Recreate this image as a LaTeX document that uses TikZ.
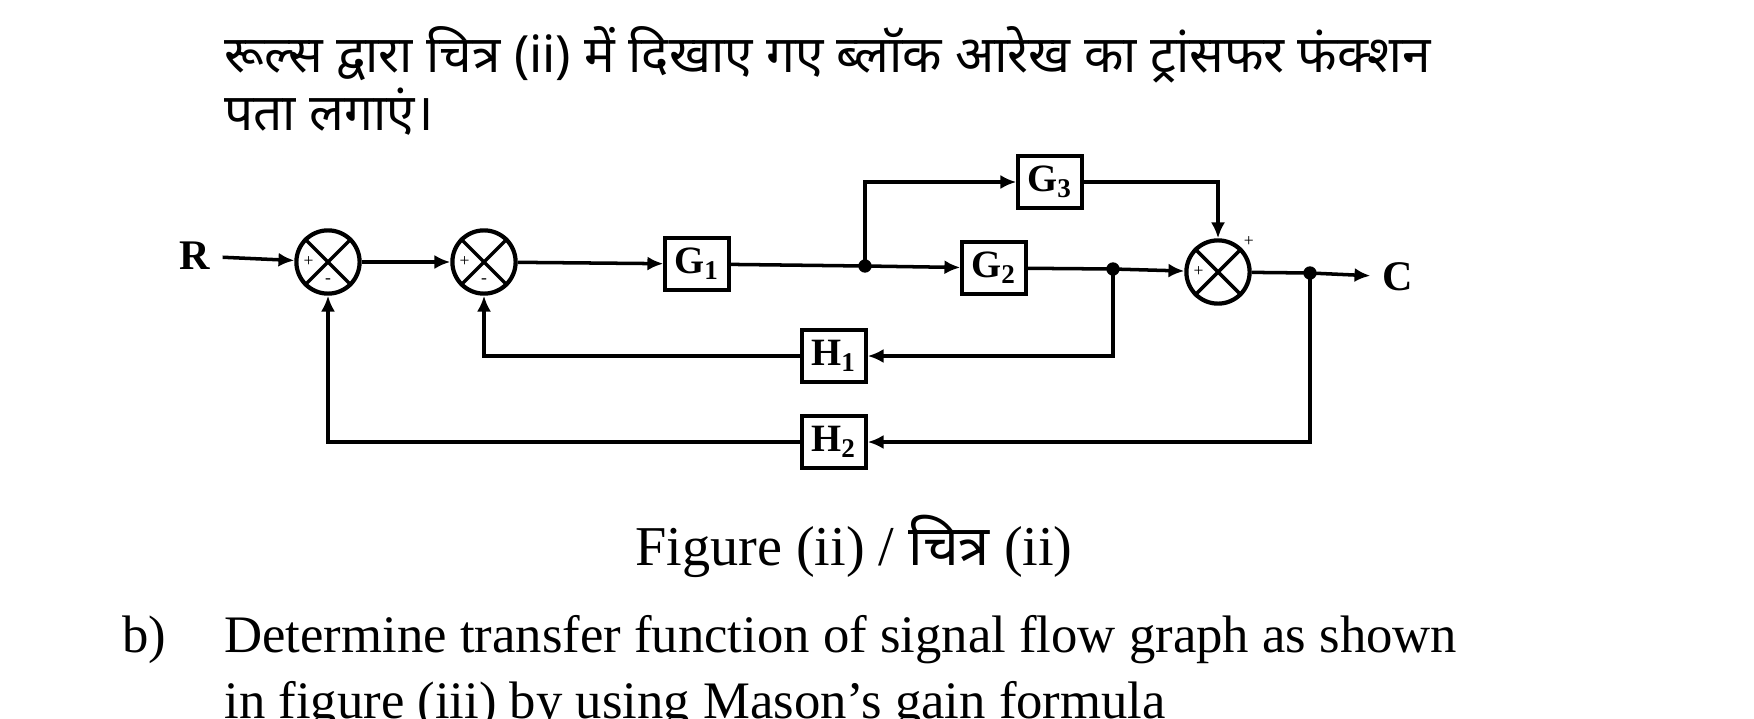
\documentclass[tikz,border=0pt]{standalone}
\usepackage{fontspec}
\setmainfont{Liberation Serif}
\newfontfamily\hindi[Script=Devanagari]{Noto Sans}
\usetikzlibrary{positioning,arrows.meta}

\tikzset{
    blk/.style={draw, line width=1.2pt, minimum width=18pt, minimum height=15pt, inner sep=0pt, font=\bfseries\fontsize{11}{11}\selectfont},
    sumj/.style={draw, circle, line width=1.2pt, minimum size=18pt, inner sep=0pt},
    pt/.style={circle, fill, minimum size=3.8pt, inner sep=0pt},
    sig/.style={line width=1pt, -{Latex[length=4.5pt,width=4pt]}},
    ln/.style={line width=1pt},
    sgn/.style={font=\fontsize{5}{5}\selectfont}
}

\begin{document}
\begin{tikzpicture}[x=0.1mm, y=-0.1mm]
    \useasboundingbox (0,0) rectangle (1754,718);

    % question text
    \node[anchor=base west, font=\hindi\fontsize{14.6}{14.6}\selectfont] (q1) at (212,72) {रूल्स द्वारा चित्र (ii) में दिखाए गए ब्लॉक आरेख का ट्रांसफर फंक्शन};
    \node[anchor=base west, font=\hindi\fontsize{14.6}{14.6}\selectfont] (q2) at (212,130) {पता लगाएं।};

    % junctions and blocks
    \node[font=\bfseries\fontsize{12}{12}\selectfont] (R) at (195,256) {R};
    \node[sumj] (s1) at (328,262) {};
    \node[sumj] (s2) at (484,262) {};
    \node[sumj] (s3) at (1218,272) {};
    \node[blk] (G1) at (697,264) {G\textsubscript{1}};
    \node[blk] (G2) at (994,268) {G\textsubscript{2}};
    \node[blk] (G3) at (1050,182) {G\textsubscript{3}};
    \node[blk] (H1) at (834,356) {H\textsubscript{1}};
    \node[blk] (H2) at (834,442) {H\textsubscript{2}};
    \node[pt] (d1) at (865,266) {};
    \node[pt] (d2) at (1113,269) {};
    \node[pt] (d3) at (1310,273) {};
    \node[font=\bfseries\fontsize{12}{12}\selectfont] (C) at (1398,277) {C};

    % crosses and signs
    \foreach \s in {s1,s2,s3} {
        \draw[ln] (\s.north west) -- (\s.south east);
        \draw[ln] (\s.north east) -- (\s.south west);
        \node[sgn] at ([xshift=-5.5pt]\s.center) {+};
    }
    \node[sgn] at ([yshift=-5.5pt]s1.center) {-};
    \node[sgn] at ([yshift=-5.5pt]s2.center) {-};
    \node[sgn] at ([xshift=2pt,yshift=2pt]s3.north east) {+};

    % forward path
    \draw[sig] (R) -- (s1);
    \draw[sig] (s1) -- (s2);
    \draw[sig] (s2) -- (G1);
    \draw[ln] (G1) -- (d1.center);
    \draw[sig] (d1.center) -- (G2);
    \draw[sig] (d1.center) |- (G3);
    \draw[sig] (G3) -| (s3);
    \draw[ln] (G2) -- (d2.center);
    \draw[sig] (d2.center) -- (s3);
    \draw[ln] (s3) -- (d3.center);
    \draw[sig] (d3.center) -- (C);

    % feedback paths
    \draw[sig] (d2.center) |- (H1);
    \draw[sig] (H1) -| (s2);
    \draw[sig] (d3.center) |- (H2);
    \draw[sig] (H2) -| (s1);

    \node[font=\fontsize{16}{16}\selectfont] (cap) at (854,546) {Figure (ii) / {\hindi चित्र} (ii)};
    \node[anchor=base west, font=\fontsize{15}{15}\selectfont] (b) at (110,652) {b)};
    \node[anchor=base west, font=\fontsize{15}{15}\selectfont] (b1) at (212,652) {Determine transfer function of signal flow graph as shown};
    \node[anchor=base west, font=\fontsize{15}{15}\selectfont] (b2) at (212,718) {in figure (iii) by using Mason's gain formula};
\end{tikzpicture}
\end{document}
